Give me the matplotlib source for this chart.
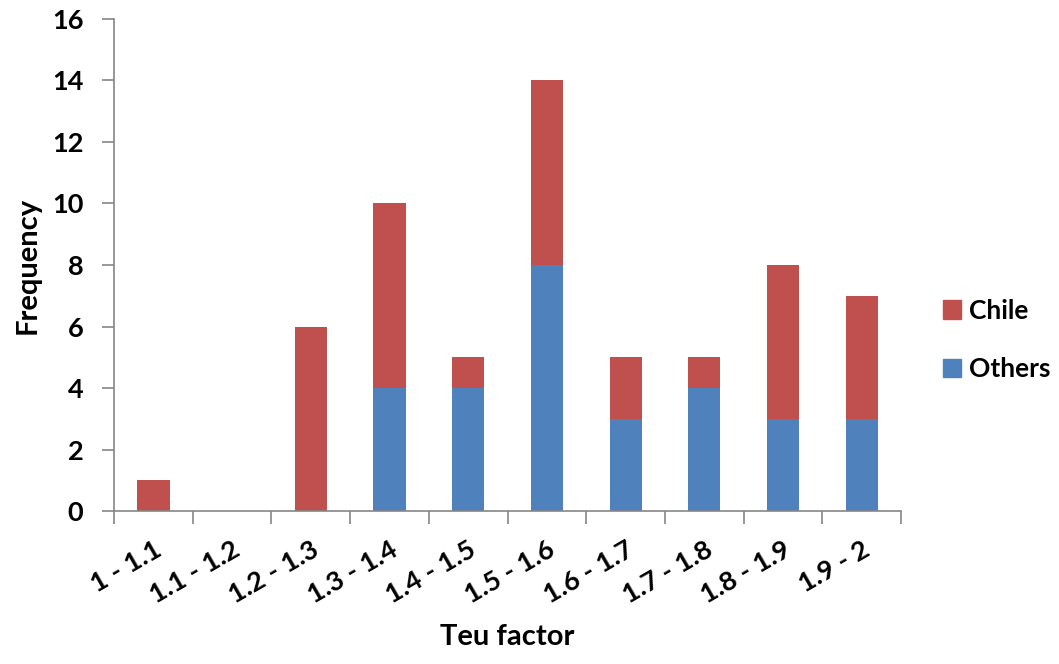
import numpy as np
import matplotlib.pyplot as plt
from matplotlib.patches import Patch

# Frequency of Teu factor per range
ranges = ["1 - 1.1", "1.1 - 1.2", "1.2 - 1.3", "1.3 - 1.4", "1.4 - 1.5",
          "1.5 - 1.6", "1.6 - 1.7", "1.7 - 1.8", "1.8 - 1.9", "1.9 - 2"]
others = [0, 0, 0, 4, 4, 8, 3, 4, 3, 3]
chile = [1, 0, 6, 6, 1, 6, 2, 1, 5, 4]

red = "#C0504D"
blue = "#4F81BD"
axis_grey = "#868686"

plt.rcParams['font.family'] = ['Lato', 'DejaVu Sans']
plt.rcParams['font.weight'] = 'bold'

fig = plt.figure(figsize=(10.59, 6.64), dpi=100)
ax = fig.add_axes([0.1077, 0.2304, 0.7432, 0.741])

x = np.arange(len(ranges))
ax.bar(x, others, width=0.41, color=blue)
ax.bar(x, chile, width=0.41, bottom=others, color=red)

ax.set_xlim(-0.5, len(ranges) - 0.5)
ax.set_ylim(0, 16)
ax.set_yticks(range(0, 17, 2))
ax.set_xticks(x)
ax.set_xticklabels(ranges, rotation=30, ha='right', rotation_mode='anchor', fontsize=19.5)
ax.tick_params(axis='x', length=0, pad=19)
# boundary ticks between categories
ax.set_xticks(np.arange(-0.5, len(ranges)), minor=True)
ax.tick_params(axis='x', which='minor', length=9, color=axis_grey, width=1.2)
ax.tick_params(axis='y', length=9, color=axis_grey, width=1.2, labelsize=19.5, pad=13)

for side in ['top', 'right']:
    ax.spines[side].set_visible(False)
for side in ['left', 'bottom']:
    ax.spines[side].set_color(axis_grey)
    ax.spines[side].set_linewidth(1.2)

ax.set_ylabel("Frequency", fontsize=21, fontweight='bold', labelpad=8)
ax.set_xlabel("Teu factor", fontsize=21, fontweight='bold', labelpad=12)

handles = [Patch(color=red, label="Chile"), Patch(color=blue, label="Others")]
fig.legend(handles=handles, loc='center left', bbox_to_anchor=(0.868, 0.488),
           frameon=False, fontsize=19, handlelength=0.7, handleheight=0.7,
           handletextpad=0.3, labelspacing=1.3)

fig.savefig("out.png", dpi=100)
